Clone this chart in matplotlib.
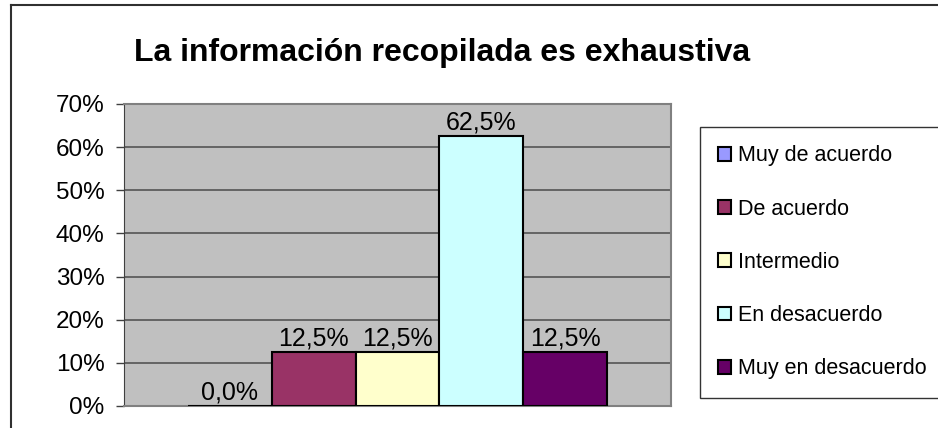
import matplotlib.pyplot as plt
from matplotlib.lines import Line2D
import numpy as np

plt.rcParams['font.family'] = ['Liberation Sans', 'DejaVu Sans']

# datos del grafico
categorias = ['Muy de acuerdo', 'De acuerdo', 'Intermedio', 'En desacuerdo', 'Muy en desacuerdo']
valores = [0.0, 12.5, 12.5, 62.5, 12.5]
colores = ['#9999FF', '#993366', '#FFFFCC', '#CCFFFF', '#660066']
yticks = [0, 10, 20, 30, 40, 50, 60, 70]

W, H = 938, 428
fig = plt.figure(figsize=(W / 100, H / 100), dpi=100)
ax = fig.add_axes([124 / W, 1 - 406 / H, (671 - 124) / W, (406 - 104) / H])
ax.set_facecolor('#C0C0C0')

x_pos = np.arange(len(categorias))
bars = ax.bar(x_pos, valores, width=1.0, color=colores, edgecolor='black',
              linewidth=1.5, label=categorias, zorder=3)
ax.bar_label(bars, labels=[f'{v:.1f}%'.replace('.', ',') for v in valores],
             padding=1, fontsize=18)

ax.set_xlim(-1.256, 5.256)
ax.set_ylim(0, 70)
ax.set_xticks([])
ax.set_yticks(yticks)
ax.set_yticklabels([f'{t}%' for t in yticks], fontsize=17.5)
ax.tick_params(axis='y', length=6, width=1, color='#404040', pad=8)
ax.yaxis.grid(True, color='#555555', linewidth=1.2, zorder=1)
ax.set_axisbelow(True)
for side in ['top', 'right', 'bottom']:
    ax.spines[side].set_color('#808080')
    ax.spines[side].set_linewidth(1.5)
ax.spines['left'].set_color('#404040')

fig.text(442 / W, 1 - 53 / H, 'La información recopilada es exhaustiva',
         fontsize=23, fontweight='bold', ha='center', va='center')

leg = fig.legend(handles=bars.patches, labels=categorias,
                 loc='upper left', bbox_to_anchor=(700 / W, 1 - 127 / H),
                 fontsize=15.5, frameon=True, fancybox=False,
                 labelspacing=1.5, handlelength=0.6, handleheight=0.6,
                 handletextpad=0.3, borderpad=0.85, borderaxespad=0)
leg.get_frame().set_edgecolor('black')
leg.get_frame().set_linewidth(1)

# borde exterior del grafico (solo visible arriba e izquierda)
fig.add_artist(Line2D([10.5 / W, 10.5 / W], [0, 1 - 5 / H], color='#303030', linewidth=1.5))
fig.add_artist(Line2D([10.5 / W, 1], [1 - 5 / H, 1 - 5 / H], color='#303030', linewidth=1.5))

plt.savefig('out.png', dpi=100)
